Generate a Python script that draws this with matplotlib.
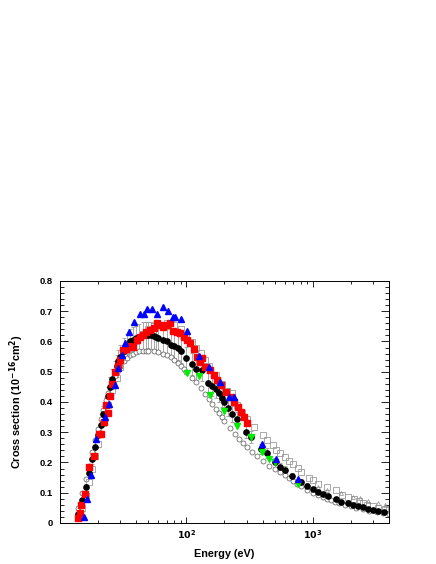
import matplotlib
matplotlib.use("Agg")
import numpy as np
import matplotlib.pyplot as plt
from matplotlib.ticker import LogLocator, MultipleLocator, FixedLocator

plt.rcParams['font.family'] = ['Liberation Sans', 'DejaVu Sans']

# black filled circles with error bars
e_black = [14, 15, 16, 17, 18, 19, 20, 21, 22, 23, 24, 25, 26, 27, 28, 29, 30, 32, 34, 36, 38,
           40, 42.5, 45, 47.5, 50, 52.5, 55, 57.5, 60, 65, 70, 75, 80, 85, 90, 100, 110, 120,
           133, 147, 160, 170, 180, 192, 200, 215, 230, 250, 294, 326, 391, 431, 500, 547,
           600, 678, 800, 896, 1010, 1100, 1200, 1310, 1520, 1670, 1880, 2070, 2260, 2480,
           2720, 2980, 3260, 3680]
s_black = [0.03, 0.075, 0.12, 0.165, 0.21, 0.25, 0.29, 0.325, 0.36, 0.39, 0.42, 0.45, 0.475,
           0.50, 0.52, 0.535, 0.55, 0.57, 0.585, 0.60, 0.605, 0.61, 0.615, 0.62, 0.62, 0.622,
           0.62, 0.618, 0.615, 0.61, 0.605, 0.60, 0.59, 0.585, 0.578, 0.57, 0.545, 0.525, 0.51,
           0.505, 0.463, 0.453, 0.443, 0.43, 0.413, 0.40, 0.38, 0.36, 0.343, 0.302, 0.284,
           0.245, 0.231, 0.20, 0.186, 0.175, 0.155, 0.135, 0.123, 0.112, 0.103, 0.096, 0.089,
           0.079, 0.069, 0.066, 0.06, 0.056, 0.053, 0.046, 0.043, 0.04, 0.036]
err_black = [v * 0.07 for v in s_black]

# open circles
e_open = [14, 15, 16, 17, 18, 19, 20, 21, 22, 23, 24, 25, 26, 27, 28, 30, 32, 34, 36, 38, 40,
          42.5, 45, 47.5, 50, 55, 60, 65, 70, 75, 80, 85, 90, 95, 100, 110, 120, 130, 140, 150,
          160, 170, 180, 190, 200, 220, 240, 260, 280, 300, 330, 360, 400, 450, 500, 550, 600,
          650, 700, 750, 800, 900, 1000, 1100, 1200, 1300, 1400, 1500, 1600, 1800, 2000, 2200,
          2500, 2800, 3200, 3600, 4000]
s_open = [0.05, 0.10, 0.145, 0.19, 0.235, 0.275, 0.31, 0.345, 0.375, 0.405, 0.43, 0.45, 0.47,
          0.485, 0.50, 0.52, 0.535, 0.545, 0.555, 0.56, 0.565, 0.568, 0.57, 0.57, 0.57, 0.568,
          0.565, 0.56, 0.555, 0.55, 0.54, 0.53, 0.52, 0.51, 0.50, 0.48, 0.465, 0.445, 0.425,
          0.41, 0.393, 0.378, 0.362, 0.35, 0.338, 0.315, 0.295, 0.278, 0.263, 0.25, 0.235,
          0.22, 0.205, 0.19, 0.178, 0.167, 0.158, 0.148, 0.138, 0.13, 0.122, 0.11, 0.1, 0.092,
          0.085, 0.08, 0.075, 0.071, 0.067, 0.06, 0.055, 0.05, 0.045, 0.04, 0.036, 0.032, 0.03]

# grey open squares
e_sq = [15, 16, 17, 18, 19, 20, 22, 24, 26, 28, 30, 33, 36, 40, 45, 50, 55, 60, 70, 80, 90, 100,
        110, 120, 130, 140, 150, 170, 190, 210, 230, 250, 275, 300, 345, 400, 437, 480, 510,
        550, 600, 650, 700, 757, 800, 933, 1000, 1100, 1300, 1520, 1700, 1900, 2100, 2300, 2500,
        2700, 3000, 3300, 3700, 4000]
s_sq = [0.05, 0.09, 0.135, 0.18, 0.22, 0.26, 0.33, 0.39, 0.44, 0.48, 0.515, 0.55, 0.58, 0.60,
        0.625, 0.64, 0.65, 0.655, 0.66, 0.655, 0.64, 0.62, 0.598, 0.58, 0.562, 0.54, 0.52, 0.49,
        0.46, 0.435, 0.43, 0.39, 0.365, 0.345, 0.317, 0.29, 0.274, 0.258, 0.241, 0.23, 0.218,
        0.205, 0.194, 0.182, 0.17, 0.148, 0.142, 0.13, 0.118, 0.109, 0.093, 0.086, 0.078,
        0.072, 0.066, 0.06, 0.055, 0.05, 0.045, 0.043]

# grey open small triangles (tail)
e_tri = [1100, 1300, 1670, 2070, 2380, 2720, 3260, 3700]
s_tri = [0.118, 0.11, 0.10, 0.087, 0.082, 0.074, 0.065, 0.058]

# red filled squares
e_red = [14.0, 14.4, 14.7, 15.8, 17.0, 18.7, 20.3, 21.0, 22.3, 23.2, 24.0, 25.0, 26.0, 27.0,
         28.5, 30.0, 31.5, 33.0, 35.0, 38.0, 40.5, 43.0, 45.5, 48.0, 51.5, 55.0, 58.5, 62.0,
         65.5, 70.0, 74.5, 79.0, 84.0, 89.5, 95.0, 101, 107, 114, 121, 127, 133, 141, 155, 164,
         175, 186, 204, 224, 236, 254, 272, 284, 303]
s_red = [0.017, 0.033, 0.06, 0.095, 0.185, 0.222, 0.295, 0.295, 0.335, 0.39, 0.365, 0.42,
         0.46, 0.50, 0.52, 0.54, 0.572, 0.575, 0.585, 0.583, 0.605, 0.615, 0.62, 0.63, 0.638,
         0.645, 0.66, 0.655, 0.649, 0.655, 0.66, 0.635, 0.633, 0.628, 0.615, 0.605, 0.595,
         0.575, 0.55, 0.533, 0.545, 0.517, 0.506, 0.49, 0.473, 0.456, 0.434, 0.418, 0.40,
         0.384, 0.368, 0.351, 0.33]

# blue triangles
e_blue = [15.6, 16.3, 17.6, 19.2, 22.5, 24.6, 27.3, 29.0, 30.9, 32.8, 35.3, 38.2, 43.2, 46.4,
          48.8, 53.4, 58.5, 65.3, 71.1, 78.4, 81.8, 91.3, 101, 125, 150, 184, 217, 237, 398,
          508, 757]
s_blue = [0.019, 0.078, 0.159, 0.278, 0.349, 0.393, 0.456, 0.511, 0.555, 0.595, 0.63, 0.663,
          0.69, 0.69, 0.709, 0.709, 0.69, 0.713, 0.702, 0.68, 0.68, 0.674, 0.636, 0.553, 0.517,
          0.467, 0.418, 0.418, 0.26, 0.21, 0.147]

# green down triangles
e_green = [101, 125, 155, 200, 250, 323, 398, 450, 500, 757]
s_green = [0.495, 0.485, 0.423, 0.371, 0.321, 0.284, 0.236, 0.21, 0.2, 0.13]

fig = plt.figure(figsize=(4.36, 5.64), dpi=100)
ax = fig.add_axes([0.1376, 0.0727, 0.7546, 0.4291])

ax.errorbar(e_black, s_black, yerr=err_black, fmt='none', ecolor='#9a9a9a',
            elinewidth=0.6, capsize=1.5, capthick=0.6, zorder=1)
ax.plot(e_open, s_open, 'o', ms=3.6, mfc='white', mec='#555555', mew=0.5, ls='none', zorder=2)
ax.plot(e_sq, s_sq, 's', ms=4.2, mfc='none', mec='#9a9a9a', mew=0.6, ls='none', zorder=2)
ax.plot(e_tri, s_tri, '^', ms=2.8, mfc='none', mec='#888888', mew=0.5, ls='none', zorder=2)
ax.plot(e_black, s_black, 'o', ms=3.8, color='black', ls='none', zorder=3)
ax.plot(e_red, s_red, 's', ms=4.5, color='#ff0000', ls='none', zorder=4)
ax.plot(e_green, s_green, 'v', ms=3.8, color='#00ee00', ls='none', zorder=5)
ax.plot(e_blue, s_blue, '^', ms=3.8, color='#0000ff', ls='none', zorder=6)

ax.set_xscale('log')
ax.set_xlim(10, 4000)
ax.set_ylim(0, 0.8)
ax.xaxis.set_major_locator(FixedLocator([100, 1000]))
ax.xaxis.set_minor_locator(LogLocator(base=10, subs=np.arange(2, 10), numticks=20))
ax.set_xticklabels([r'$\mathbf{10^{2}}$', r'$\mathbf{10^{3}}$'])
ax.yaxis.set_major_locator(MultipleLocator(0.1))
ax.yaxis.set_minor_locator(MultipleLocator(0.02))
ax.set_yticks([0, 0.1, 0.2, 0.3, 0.4, 0.5, 0.6, 0.7, 0.8])
ax.set_yticklabels(['0', '0.1', '0.2', '0.3', '0.4', '0.5', '0.6', '0.7', '0.8'],
                   fontweight='bold')

ax.tick_params(which='both', direction='in', top=True, right=True, labelsize=6.8, width=0.6)
ax.tick_params(axis='y', which='major', length=6, pad=5)
ax.tick_params(axis='y', which='minor', length=3)
ax.tick_params(axis='x', which='major', length=4.5, pad=4)
ax.tick_params(axis='x', which='minor', length=2.5)
for sp in ax.spines.values():
    sp.set_linewidth(0.7)

ax.set_xlabel('Energy (eV)', fontsize=7.8, fontweight='bold', labelpad=6)
ax.set_ylabel(r'Cross section (10$^{\mathbf{-16}}$cm$^{\mathbf{2}}$)', fontsize=7.8,
              fontweight='bold', labelpad=10)

fig.savefig('out.png', dpi=100)
